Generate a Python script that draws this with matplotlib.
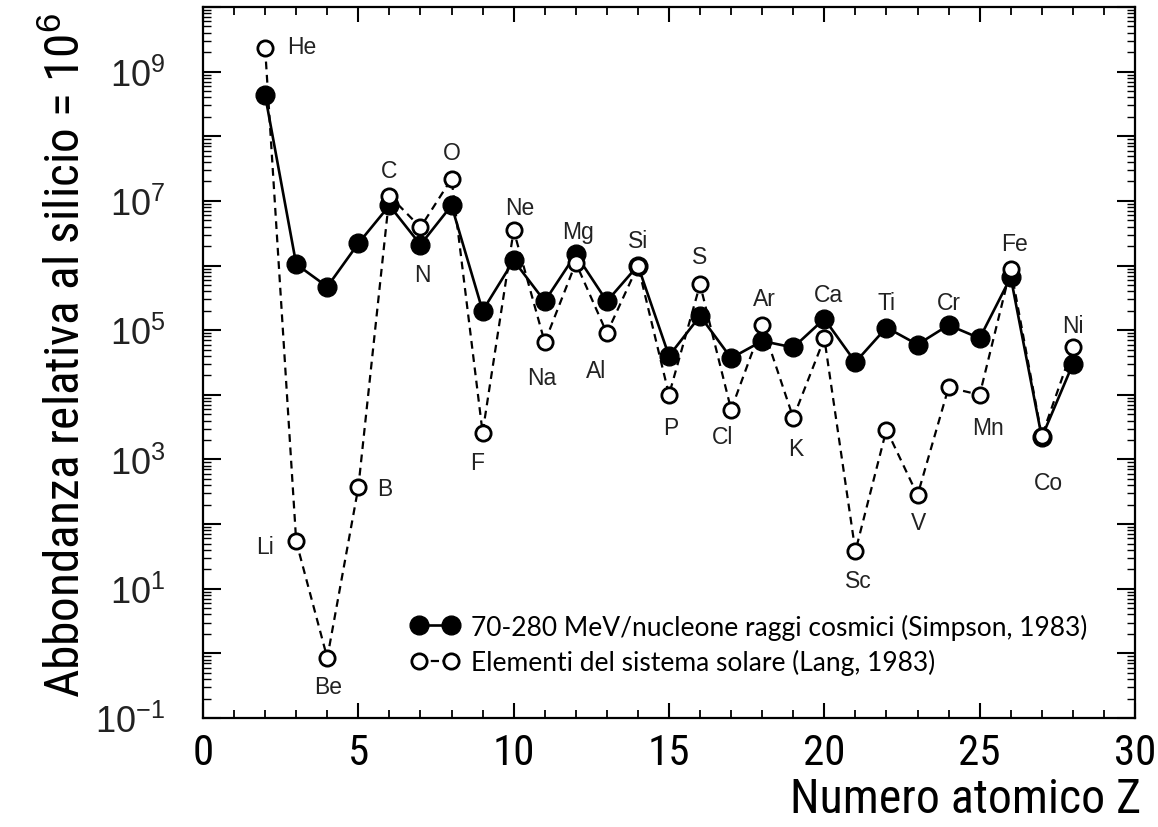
import matplotlib
matplotlib.use('Agg')
import matplotlib.pyplot as plt
from matplotlib import font_manager as fm
from matplotlib.lines import Line2D

# ---------------- data ----------------
Z = list(range(2, 29))
elements = ['He', 'Li', 'Be', 'B', 'C', 'N', 'O', 'F', 'Ne', 'Na', 'Mg', 'Al', 'Si', 'P',
            'S', 'Cl', 'Ar', 'K', 'Ca', 'Sc', 'Ti', 'V', 'Cr', 'Mn', 'Fe', 'Co', 'Ni']
cosmic = [4.3e8, 1.05e6, 4.7e5, 2.2e6, 8.5e6, 2.1e6, 8.5e6, 2.0e5, 1.2e6, 2.8e5, 1.5e6, 2.8e5,
          1.0e6, 4.0e4, 1.66e5, 3.7e4, 6.8e4, 5.4e4, 1.5e5, 3.2e4, 1.1e5, 6.0e4, 1.2e5, 7.5e4,
          6.6e5, 2.2e3, 3.0e4]
solar = [2.3e9, 54, 0.85, 370, 1.2e7, 3.9e6, 2.2e7, 2.6e3, 3.5e6, 6.5e4, 1.1e6, 9.0e4,
         1.0e6, 1.0e4, 5.1e5, 5.9e3, 1.2e5, 4.4e3, 7.5e4, 38, 2.9e3, 280, 1.3e4, 1.0e4,
         9.0e5, 2.3e3, 5.4e4]
legend_labels = ['70-280 MeV/nucleone raggi cosmici (Simpson, 1983)',
                 'Elementi del sistema solare (Lang, 1983)']
ytick_exps = list(range(-1, 11))
xticks_major = [0, 5, 10, 15, 20, 25, 30]

# ---------------- styling ----------------
# label placement: side and pixel offset (dx, dy)
label_style = {
    'He': ('right', 37, 2), 'Li': ('left', -31, -5), 'Be': ('below', 1, -29), 'B': ('right', 26, -1),
    'C': ('above', 0, 25), 'N': ('below', 2, -30), 'O': ('above', 0, 26), 'F': ('below', -5, -30),
    'Ne': ('above', 6, 23), 'Na': ('below', -3, -35), 'Mg': ('above', 2, 23), 'Al': ('below', -11, -37),
    'Si': ('above', 0, 25), 'P': ('below', 2, -33), 'S': ('above', 0, 28), 'Cl': ('below', -9, -27),
    'Ar': ('above', 2, 27), 'K': ('below', 2, -31), 'Ca': ('above', 4, 24), 'Sc': ('below', 3, -29),
    'Ti': ('above', 0, 25), 'V': ('below', 1, -27), 'Cr': ('above', 0, 23), 'Mn': ('below', 8, -33),
    'Fe': ('above', 4, 25), 'Co': ('below', 7, -45), 'Ni': ('above', 0, 22),
}

available = {f.name for f in fm.fontManager.ttflist}
def pick(cands, default='DejaVu Sans'):
    for c in cands:
        if c in available:
            return c
    return default

narrow = pick(['Liberation Sans Narrow', 'Roboto Condensed', 'Open Sans Condensed',
               'DejaVu Sans Condensed', 'Noto Sans Display', 'Liberation Sans'])
helv = pick(['Liberation Sans', 'Arial', 'DejaVu Sans'])
myriad = pick(['Lato', 'Open Sans', 'Liberation Sans'])

plt.rcParams['font.family'] = [helv, 'DejaVu Sans']
plt.rcParams['mathtext.fontset'] = 'custom'
plt.rcParams['mathtext.rm'] = helv
plt.rcParams['mathtext.it'] = helv
plt.rcParams['mathtext.bf'] = helv

fig = plt.figure(figsize=(11.58, 8.28), dpi=100)
ax = fig.add_axes([203 / 1158, 1 - 719 / 828, (1135 - 203) / 1158, (719 - 8) / 828])

ax.plot(Z, cosmic, '-', color='black', lw=1.9, marker='o', ms=13.5,
        mfc='black', mec='black', zorder=3)
sol_line, = ax.plot(Z, solar, '--', color='black', lw=1.6, marker='o', ms=11,
                    mfc='white', mec='black', mew=2.0, zorder=4)
sol_line.set_dashes((3.5, 2.5))

ax.set_yscale('log')
ax.set_xlim(0, 30)
ax.set_ylim(1e-1, 1e10)

# ticks
ax.set_xticks(xticks_major)
ax.set_xticks(range(0, 31), minor=True)
ax.set_xticklabels([str(v) for v in xticks_major], fontfamily=narrow, fontsize=31)
ax.set_yticks([10.0 ** e for e in ytick_exps])
ax.set_yticklabels(['$10^{%d}$' % e if e % 2 == 1 else '' for e in ytick_exps],
                   fontsize=26, color='#222222')
ax.yaxis.set_minor_locator(matplotlib.ticker.LogLocator(base=10, subs=range(2, 10), numticks=30))
ax.yaxis.set_minor_formatter(matplotlib.ticker.NullFormatter())
ax.tick_params(which='both', direction='in', top=True, right=True, color='black')
ax.tick_params(axis='x', which='major', length=11, width=1.5, pad=10)
ax.tick_params(axis='x', which='minor', length=6, width=1.3)
ax.tick_params(axis='y', which='major', length=13, width=1.5, pad=27)
ax.tick_params(axis='y', which='minor', length=6, width=1.0)
for s in ax.spines.values():
    s.set_linewidth(1.6)

# element labels
for z, el, c, s in zip(Z, elements, cosmic, solar):
    side, dx, dy = label_style[el]
    if side == 'above':
        yv = max(c, s)
    elif side == 'below':
        yv = min(c, s)
    else:
        yv = s
    ax.annotate(el, (z, yv), xytext=(dx, dy), textcoords='offset pixels',
                ha='center', va='center', fontsize=16.5, color='#222222')

# legend
h1 = Line2D([], [], color='black', lw=1.9, marker='o', ms=13.5, mfc='black', mec='black')
h2 = Line2D([], [], color='black', lw=1.6, ls='--', marker='o', ms=11, mfc='white',
            mec='black', mew=2.0)
leg = ax.legend([h1, h2], legend_labels, loc='lower left', bbox_to_anchor=(0.198, 0.027),
                frameon=False, numpoints=2, handlelength=1.8, handletextpad=0.45,
                labelspacing=0.35, prop={'family': myriad, 'size': 19})

# axis titles
fig.text(1141 / 1158, 1 - 800 / 828, 'Numero atomico Z', ha='right', va='center',
         fontfamily=narrow, fontsize=34.5)
fig.text(67 / 1158, 1 - 355 / 828, 'Abbondanza relativa al silicio = 10$^6$', rotation=90,
         ha='center', va='center', fontfamily=narrow, fontsize=35.5)

fig.savefig('out.png', dpi=100)
